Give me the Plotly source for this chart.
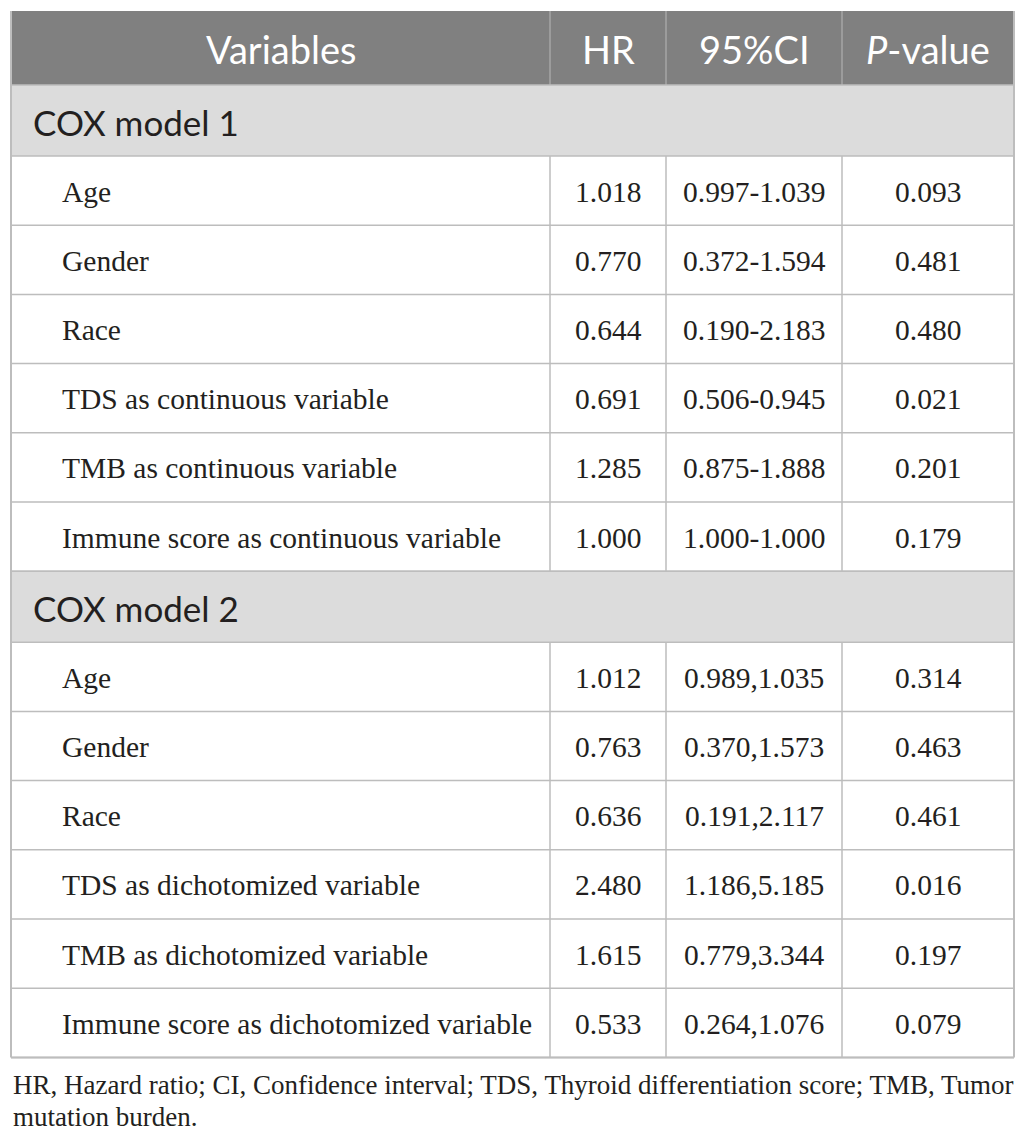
import plotly.graph_objects as go

# ---- data ----
headers = ["Variables", "HR", "95%CI", "<i>P</i>-value"]
sections = ["COX model 1", "COX model 2"]
variables_1 = ["Age", "Gender", "Race", "TDS as continuous variable",
               "TMB as continuous variable", "Immune score as continuous variable"]
hr_1 = ["1.018", "0.770", "0.644", "0.691", "1.285", "1.000"]
ci_1 = ["0.997-1.039", "0.372-1.594", "0.190-2.183", "0.506-0.945", "0.875-1.888", "1.000-1.000"]
p_1 = ["0.093", "0.481", "0.480", "0.021", "0.201", "0.179"]
variables_2 = ["Age", "Gender", "Race", "TDS as dichotomized variable",
               "TMB as dichotomized variable", "Immune score as dichotomized variable"]
hr_2 = ["1.012", "0.763", "0.636", "2.480", "1.615", "0.533"]
ci_2 = ["0.989,1.035", "0.370,1.573", "0.191,2.117", "1.186,5.185", "0.779,3.344", "0.264,1.076"]
p_2 = ["0.314", "0.463", "0.461", "0.016", "0.197", "0.079"]
footnote_lines = ["HR, Hazard ratio; CI, Confidence interval; TDS, Thyroid differentiation score; TMB, Tumor",
                  "mutation burden."]

# ---- layout geometry ----
W, H = 1026, 1140
col_x = [11, 550, 666, 842, 1014]
top = 11
header_h = 74
section_h = 71
row_h = 69.2
header_fill = "#808080"
section_fill = "#dcdcdc"
line_col = "#bdbdbd"
text_col = "#231f20"
sans = "Lato"
serif = "Liberation Serif"
header_size = 38
section_size = 35
serif_size = 29.5
foot_size = 27

fig = go.Figure()
shapes = []
annotations = []

def hline(y, x0=col_x[0], x1=col_x[-1], color=line_col, width=1.5):
    shapes.append(dict(type="line", x0=x0, x1=x1, y0=y, y1=y, xref="x", yref="y",
                       line=dict(color=color, width=width)))

def vline(x, y0, y1, color=line_col, width=1.5):
    shapes.append(dict(type="line", x0=x, x1=x, y0=y0, y1=y1, xref="x", yref="y",
                       line=dict(color=color, width=width)))

def text(x, y, s, font, size, color, anchor="center"):
    annotations.append(dict(x=x, y=y, xref="x", yref="y", text=s, showarrow=False,
                            xanchor=anchor, yanchor="middle",
                            font=dict(family=font, size=size, color=color)))

# header
y = top
shapes.append(dict(type="rect", x0=col_x[0], x1=col_x[-1], y0=y, y1=y + header_h,
                   xref="x", yref="y", fillcolor=header_fill, line=dict(width=0), layer="below"))
for i, h in enumerate(headers):
    cx = (col_x[i] + col_x[i + 1]) / 2
    text(cx, y + header_h / 2 + 1, h, sans, header_size, "white")
for x in col_x[1:-1]:
    vline(x, y, y + header_h, color="#a6a6a6")
y += header_h

for sec, vars_, hrs, cis, ps in [
        (sections[0], variables_1, hr_1, ci_1, p_1),
        (sections[1], variables_2, hr_2, ci_2, p_2)]:
    shapes.append(dict(type="rect", x0=col_x[0], x1=col_x[-1], y0=y, y1=y + section_h,
                       xref="x", yref="y", fillcolor=section_fill, line=dict(width=0), layer="below"))
    text(31, y + section_h / 2 + 1, sec, sans, section_size, text_col, anchor="left")
    hline(y)
    y += section_h
    hline(y)
    block_top = y
    for v, hr, ci, p in zip(vars_, hrs, cis, ps):
        text(60, y + row_h / 2 + 1, v, serif, serif_size, text_col, anchor="left")
        for i, val in enumerate([hr, ci, p]):
            cx = (col_x[i + 1] + col_x[i + 2]) / 2
            text(cx, y + row_h / 2 + 1, val, serif, serif_size, text_col)
        y += row_h
        hline(y)
    for x in col_x[1:-1]:
        vline(x, block_top, y)

table_bottom = y
# outer border
vline(col_x[0], top, table_bottom, width=2)
vline(col_x[-1], top, table_bottom, width=2)
hline(table_bottom, width=2)

# footnote
text(11, 1085, footnote_lines[0], serif, foot_size, text_col, anchor="left")
text(11, 1117, footnote_lines[1], serif, foot_size, text_col, anchor="left")

fig.update_layout(
    width=W, height=H, margin=dict(l=0, r=0, t=0, b=0),
    paper_bgcolor="white", plot_bgcolor="white",
    xaxis=dict(range=[0, W], visible=False, fixedrange=True),
    yaxis=dict(range=[H, 0], visible=False, fixedrange=True),
    shapes=shapes, annotations=annotations, showlegend=False,
)
fig.write_html("out.html", config={"displayModeBar": False},
               post_script="document.body.style.margin='0';document.body.style.overflow='hidden';")
